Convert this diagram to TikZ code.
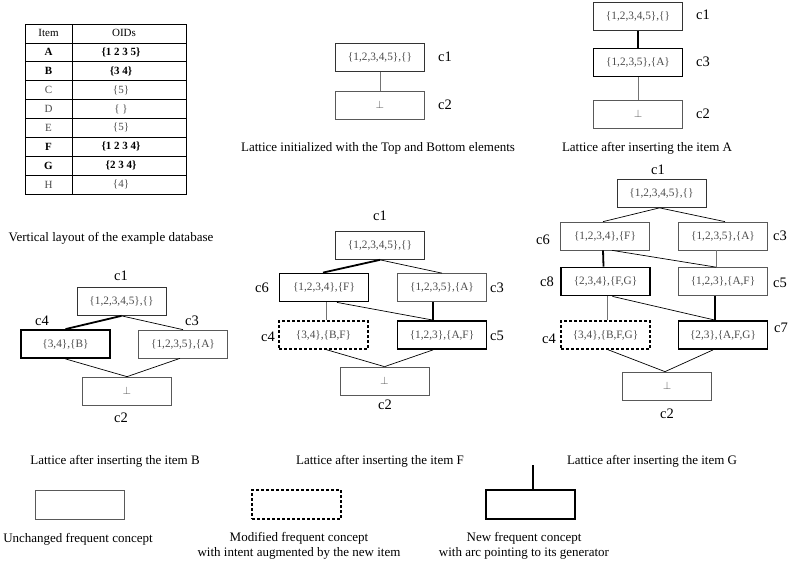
\documentclass[tikz,border=0pt]{standalone}
\usepackage{fontspec}
\setmainfont{Liberation Serif}
\begin{document}
\begin{tikzpicture}[x=1pt,y=-1pt,
 box/.style={draw=black!65, line width=0.7pt, minimum width=89pt, minimum height=28pt, inner sep=0pt, text=black!70, font=\fontsize{11.3}{13}\selectfont},
 thickbox/.style={box, draw=black, line width=1.8pt},
 dashbox/.style={box, draw=black, line width=1.4pt, dash pattern=on 3pt off 2pt},
 legbox/.style={minimum width=89pt, minimum height=29pt, inner sep=0pt},
 lbl/.style={font=\fontsize{14.5}{16}\selectfont, inner sep=0pt},
 captext/.style={font=\fontsize{13}{15}\selectfont, inner sep=0pt, align=center},
 legcap/.style={font=\fontsize{13}{15}\selectfont, inner sep=0pt, align=center},
 tcell/.style={font=\fontsize{11}{13}\selectfont, inner sep=0pt, text=black!70},
 tbold/.style={font=\fontsize{11}{13}\selectfont\bfseries, inner sep=0pt},
 edge/.style={line width=0.7pt},
 tedge/.style={line width=1.8pt},
 gedge/.style={line width=0.8pt, draw=black!55}]
\useasboundingbox (0,0) rectangle (791,565);

% ---------- table ----------
\draw[line width=0.8pt] (25,24) rectangle (186,194);
\foreach \k in {1,...,8} \draw[line width=0.6pt] (25,{24+18.89*\k}) -- (186,{24+18.89*\k});
\draw[line width=0.8pt] (72,24) -- (72,194);
\node[tcell, text=black] (th1) at (48.5,33.4) {Item};
\node[tcell, text=black] (th2) at (124,33.4) {OIDs};
\node[tbold] (ta) at (48.5,52.3) {A};   \node[tbold] (toa) at (121,52.3) {\{1 2 3 5\}};
\node[tbold] (tb) at (48.5,71.2) {B};   \node[tbold] (tob) at (121,71.2) {\{3 4\}};
\node[tcell] (tc) at (48.5,90.1) {C};   \node[tcell] (toc) at (121,90.1) {\{5\}};
\node[tcell] (td) at (48.5,109) {D};    \node[tcell] (tod) at (121,109) {\{ \}};
\node[tcell] (te) at (48.5,127.9) {E};  \node[tcell] (toe) at (121,127.9) {\{5\}};
\node[tbold] (tf) at (48.5,146.8) {F};  \node[tbold] (tof) at (121,146.8) {\{1 2 3 4\}};
\node[tbold] (tg) at (48.5,165.7) {G};  \node[tbold] (tog) at (121,165.7) {\{2 3 4\}};
\node[tcell] (th) at (48.5,184.6) {H};  \node[tcell] (toh) at (121,184.6) {\{4\}};
\node[captext] (captab) at (111,238) {Vertical layout of the example database};

% ---------- lattice init ----------
\node[box, draw=black!80] (ia) at (380,57.5) {\{1,2,3,4,5\},\{\}};
\node[box] (ib) at (380,105) {$\perp$};
\node[lbl] (ial) at (445,57) {c1};
\node[lbl] (ibl) at (445,105) {c2};
\draw[gedge] (ia.south) -- (ib.north);
\node[captext] (capi) at (378,148) {Lattice initialized with the Top and Bottom elements};

% ---------- lattice A ----------
\node[box, draw=black!80] (aa) at (638,16.5) {\{1,2,3,4,5\},\{\}};
\node[thickbox] (ac) at (638,62.5) {\{1,2,3,5\},\{A\}};
\node[box] (ab) at (638,114) {$\perp$};
\node[lbl] (aal) at (703,15) {c1};
\node[lbl] (acl) at (703,62) {c3};
\node[lbl] (abl) at (703,114) {c2};
\draw[tedge] (aa.south) -- (ac.north);
\draw[gedge] (ac.south) -- (ab.north);
\node[captext] (capa) at (647,148) {Lattice after inserting the item A};

% ---------- lattice B ----------
\node[box, draw=black!80] (ba) at (121.5,301.5) {\{1,2,3,4,5\},\{\}};
\node[thickbox] (bd) at (65.5,344) {\{3,4\},\{B\}};
\node[box] (bc) at (183,344) {\{1,2,3,5\},\{A\}};
\node[box] (bb) at (127,391) {$\perp$};
\node[lbl] (bal) at (121,276) {c1};
\node[lbl] (bdl) at (42,321) {c4};
\node[lbl] (bcl) at (192,321) {c3};
\node[lbl] (bbl) at (121,418) {c2};
\draw[tedge] (ba.south) -- (bd.north);
\draw[edge] (ba.south) -- (bc.north);
\draw[edge] (bd.south) -- (bb.north);
\draw[edge] ([xshift=-3pt]bc.south) -- (bb.north);
\node[captext] (capb) at (115,461) {Lattice after inserting the item B};

% ---------- lattice F ----------
\node[box, draw=black!80] (fa) at (380,245.5) {\{1,2,3,4,5\},\{\}};
\node[thickbox] (ff) at (324,287.5) {\{1,2,3,4\},\{F\}};
\node[box] (fc) at (442,287.5) {\{1,2,3,5\},\{A\}};
\node[dashbox] (fd) at (323.5,335) {\{3,4\},\{B,F\}};
\node[thickbox] (fe) at (442,335) {\{1,2,3\},\{A,F\}};
\node[box] (fb) at (384.5,381) {$\perp$};
\node[lbl] (fal) at (380,216) {c1};
\node[lbl] (ffl) at (262,288) {c6};
\node[lbl] (fcl) at (497,288) {c3};
\node[lbl] (fdl) at (268,337) {c4};
\node[lbl] (fel) at (497,336) {c5};
\node[lbl] (fbl) at (385,405) {c2};
\draw[tedge] (fa.south) -- ([xshift=-1pt]ff.north);
\draw[edge] (fa.south) -- (fc.north);
\draw[gedge] ([xshift=2pt]ff.south) -- ([xshift=2.5pt]fd.north);
\draw[edge] ([xshift=13pt]ff.south) -- ([xshift=-9pt]fe.north);
\draw[tedge] ([xshift=-9pt]fc.south) -- ([xshift=-9pt]fe.north);
\draw[edge] ([xshift=3pt]fd.south) -- (fb.north);
\draw[edge] ([xshift=-9pt]fe.south) -- (fb.north);
\node[captext] (capf) at (380,461) {Lattice after inserting the item F};

% ---------- lattice G ----------
\node[box, draw=black!80] (ga) at (661.5,193.5) {\{1,2,3,4,5\},\{\}};
\node[box] (gf) at (605,236) {\{1,2,3,4\},\{F\}};
\node[box] (gc) at (723,236) {\{1,2,3,5\},\{A\}};
\node[thickbox] (gh) at (605.5,281.5) {\{2,3,4\},\{F,G\}};
\node[box] (ge) at (723,281.5) {\{1,2,3\},\{A,F\}};
\node[dashbox] (gd) at (605.5,335) {\{3,4\},\{B,F,G\}};
\node[thickbox] (gg) at (723,335) {\{2,3\},\{A,F,G\}};
\node[box] (gb) at (667,386) {$\perp$};
\node[lbl] (gal) at (658,170) {c1};
\node[lbl] (gfl) at (543,240) {c6};
\node[lbl] (gcl) at (780,236) {c3};
\node[lbl] (ghl) at (547,282) {c8};
\node[lbl] (gel) at (780,283) {c5};
\node[lbl] (gdl) at (549,339) {c4};
\node[lbl] (ggl) at (781,328) {c7};
\node[lbl] (gbl) at (667,414) {c2};
\draw[edge] ([xshift=-2pt]ga.south) -- ([xshift=-2pt]gf.north);
\draw[edge] ([xshift=-2pt]ga.south) -- ([xshift=2pt]gc.north);
\draw[tedge] ([xshift=-2pt]gf.south) -- ([xshift=-2pt]gh.north);
\draw[edge] ([xshift=7pt]gf.south) -- ([xshift=-7pt]ge.north);
\draw[gedge] ([xshift=-7pt]gc.south) -- ([xshift=-7pt]ge.north);
\draw[gedge] ([xshift=2pt]gh.south) -- ([xshift=2pt]gd.north);
\draw[edge] ([xshift=7pt]gh.south) -- ([xshift=-8pt]gg.north);
\draw[tedge] ([xshift=-8pt]ge.south) -- ([xshift=-8pt]gg.north);
\draw[edge] ([xshift=2.5pt]gd.south) -- ([xshift=-2pt]gb.north);
\draw[edge] ([xshift=-10pt]gg.south) -- ([xshift=-2pt]gb.north);
\node[captext] (capg) at (652,461) {Lattice after inserting the item G};

% ---------- legend ----------
\node[legbox, draw=black!65, line width=0.7pt] (l1) at (79.5,504.5) {};
\node[legbox, draw=black, line width=1.4pt, dash pattern=on 3pt off 2pt] (l2) at (296.5,504.5) {};
\node[legbox, draw=black, line width=1.8pt] (l3) at (530.5,504.5) {};
\coordinate (l3top) at (533,465);
\draw[tedge] (l3top) -- (l3.north -| l3top);
\node[legcap] (lc1) at (78,539) {Unchanged frequent concept};
\node[legcap] (lc2) at (299,546) {Modified frequent concept\\with intent augmented by the new item};
\node[legcap] (lc3) at (524,546) {New frequent concept\\with arc pointing to its generator};
\end{tikzpicture}
\end{document}
